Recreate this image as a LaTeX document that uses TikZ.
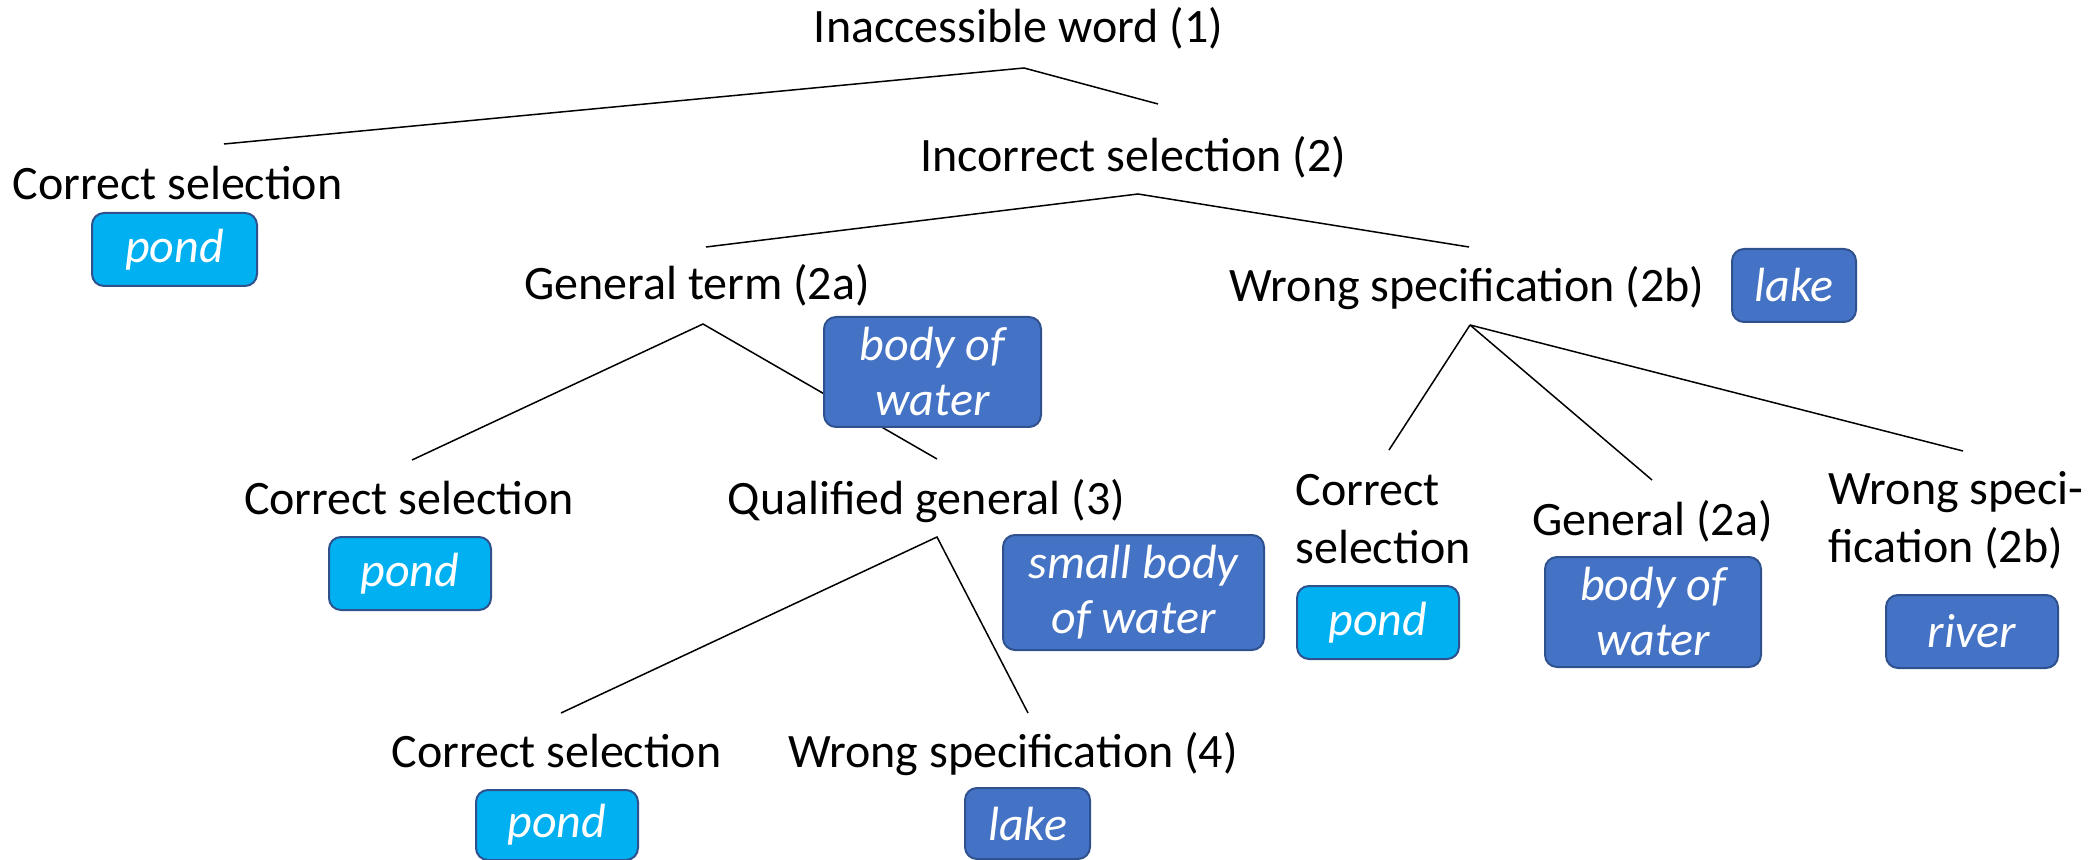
\documentclass[tikz,border=0pt]{standalone}
\usepackage{fontspec}
\setmainfont{Carlito}
\definecolor{lightbox}{HTML}{00B0F0}
\definecolor{darkbox}{HTML}{4472C4}
\definecolor{boxline}{HTML}{2F528F}
\begin{document}
\begin{tikzpicture}[x=0.5pt,y=-0.5pt,
  lbl/.style={font=\fontsize{24}{29}\selectfont, inner sep=0pt, anchor=base},
  mlbl/.style={font=\fontsize{24}{29}\selectfont, inner sep=0pt, anchor=base west, align=left},
  box/.style={rounded corners=6pt, draw=boxline, line width=1pt, text=white, align=center, inner sep=0pt,
    font=\fontsize{24}{27.5}\selectfont\itshape},
  lbox/.style={box, fill=lightbox},
  dbox/.style={box, fill=darkbox},
  conn/.style={line width=0.75pt, black}]
\useasboundingbox (0,0) rectangle (2097,860);

% labels
\node[lbl] (root) at (1018.5,43) {Inaccessible word (1)};
\node[lbl] (cs1) at (177.5,200) {Correct selection};
\node[lbl] (inc) at (1133,172) {Incorrect selection (2)};
\node[lbl] (gen) at (697,300) {General term (2a)};
\node[lbl] (wsp) at (1467,302) {Wrong specification (2b)};
\node[lbl] (cs3) at (409,515) {Correct selection};
\node[lbl] (qg) at (926.5,515) {Qualified general (3)};
\node[mlbl] (cs3r) at (1295,563) {Correct\\selection};
\node[lbl] (gen3) at (1652.5,535) {General (2a)};
\node[mlbl] (wsp3) at (1828,562) {Wrong speci-\\fication (2b)};
\node[lbl] (cs4) at (556.5,767) {Correct selection};
\node[lbl] (wsp4) at (1013,767) {Wrong specification (4)};

% connector end points
\coordinate (r0) at (1024,68);
\coordinate (r0a) at (224,144);
\coordinate (r0b) at (1158,104);
\coordinate (r2) at (1138,194);
\coordinate (r2a) at (706,247);
\coordinate (r2b) at (1469,247);
\coordinate (g0) at (703,324);
\coordinate (ga) at (412,460);
\coordinate (gb) at (937,459);
\coordinate (w0) at (1470,325);
\coordinate (wa) at (1389,450);
\coordinate (wb) at (1652,480);
\coordinate (wc) at (1963,451);
\coordinate (q0) at (937,537);
\coordinate (qa) at (561,713);
\coordinate (qb) at (1028,713);

\draw[conn] (r0a) -- (r0) -- (r0b);
\draw[conn] (r2a) -- (r2) -- (r2b);
\draw[conn] (ga) -- (g0) -- (gb);
\draw[conn] (w0) -- (wa);
\draw[conn] (w0) -- (wb);
\draw[conn] (w0) -- (wc);
\draw[conn] (qa) -- (q0) -- (qb);

% boxes
\node[lbox, minimum width=82.5pt, minimum height=36.5pt] (b1) at (174.5,249.5) {pond};
\node[dbox, minimum width=108.5pt, minimum height=55pt] (b2) at (932.5,372) {body of\\water};
\node[dbox, minimum width=62pt, minimum height=36.5pt] (b3) at (1794,285.5) {lake};
\node[lbox, minimum width=81pt, minimum height=36.5pt] (b4) at (410,573.5) {pond};
\node[dbox, minimum width=130.5pt, minimum height=57.5pt] (b5) at (1133.5,592.5) {small body\\of water};
\node[lbox, minimum width=81pt, minimum height=36.5pt] (b6) at (1378,622.5) {pond};
\node[dbox, minimum width=108pt, minimum height=55pt] (b7) at (1653,612) {body of\\water};
\node[dbox, minimum width=86pt, minimum height=36.5pt] (b8) at (1972,631.5) {river};
\node[lbox, minimum width=81pt, minimum height=35pt] (b9) at (557,825) {pond};
\node[dbox, minimum width=62.5pt, minimum height=35.5pt] (b10) at (1027.5,823.5) {lake};
\end{tikzpicture}
\end{document}
